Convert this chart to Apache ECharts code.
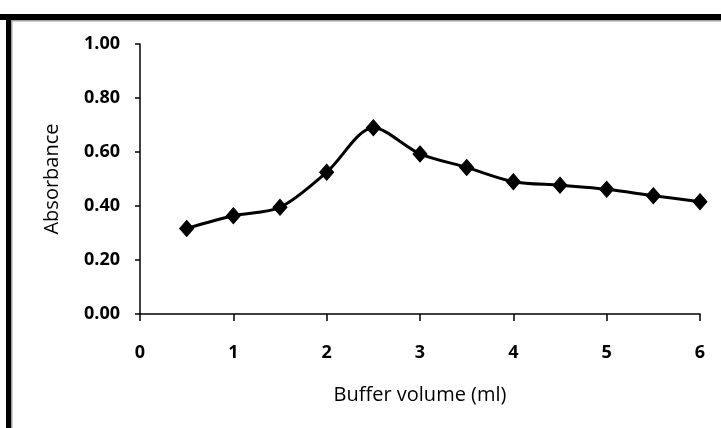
<!DOCTYPE html>
<html>
<head>
<meta charset="utf-8">
<script src="https://cdn.jsdelivr.net/npm/echarts@6/dist/echarts.min.js"></script>
<style>
html,body{margin:0;padding:0;background:#fff;}
#chart{width:721px;height:428px;}
</style>
</head>
<body>
<div id="chart"></div>
<script>
const bufferVolume = [0.5, 1, 1.5, 2, 2.5, 3, 3.5, 4, 4.5, 5, 5.5, 6];
const absorbance = [0.317, 0.364, 0.395, 0.525, 0.690, 0.593, 0.543, 0.490, 0.477, 0.462, 0.438, 0.416];
const xTitle = 'Buffer volume (ml)';
const yTitle = 'Absorbance';

const chart = echarts.init(document.getElementById('chart'));
const fontFam = '"Open Sans", "Liberation Sans", sans-serif';
chart.setOption({
  animation: false,
  backgroundColor: '#fff',
  graphic: [
    { type: 'rect', shape: { x: 0, y: 14, width: 721, height: 6 }, style: { fill: '#000' }, silent: true },
    { type: 'rect', shape: { x: 6, y: 14, width: 5, height: 414 }, style: { fill: '#000' }, silent: true },
    { type: 'rect', shape: { x: 11, y: 20, width: 710, height: 1.5 }, style: { fill: '#a0a0a0' }, silent: true },
    { type: 'rect', shape: { x: 11, y: 20, width: 1.5, height: 408 }, style: { fill: '#a0a0a0' }, silent: true }
  ],
  grid: { left: 140, right: 21, top: 44, bottom: 114 },
  xAxis: {
    type: 'value', min: 0, max: 6, interval: 1,
    name: xTitle, nameLocation: 'middle', nameGap: 71,
    nameTextStyle: { fontFamily: fontFam, fontSize: 20, color: '#000' },
    axisLine: { show: true, lineStyle: { color: '#000', width: 1.5 } },
    axisTick: { show: true, inside: false, length: 7, lineStyle: { color: '#000', width: 1.5 } },
    axisLabel: { margin: 30, fontFamily: fontFam, fontSize: 18, fontWeight: 'bold', color: '#000' },
    splitLine: { show: false }
  },
  yAxis: {
    type: 'value', min: 0, max: 1, interval: 0.2,
    name: yTitle, nameLocation: 'middle', nameGap: 78, nameRotate: 90,
    nameTextStyle: { fontFamily: fontFam, fontSize: 20, color: '#000' },
    axisLine: { show: true, onZero: false, lineStyle: { color: '#000', width: 1.5 } },
    axisTick: { show: true, length: 5, lineStyle: { color: '#000', width: 1.5 } },
    axisLabel: { margin: 20, fontFamily: fontFam, fontSize: 18, fontWeight: 'bold', color: '#000',
      formatter: v => v.toFixed(2) },
    splitLine: { show: false }
  },
  series: [{
    type: 'line',
    data: bufferVolume.map((x, i) => [x, absorbance[i]]),
    smooth: 0.3,
    symbol: 'diamond',
    symbolSize: [14, 16],
    lineStyle: { color: '#000', width: 3 },
    itemStyle: { color: '#000', borderColor: '#000' }
  }]
});
</script>
</body>
</html>
